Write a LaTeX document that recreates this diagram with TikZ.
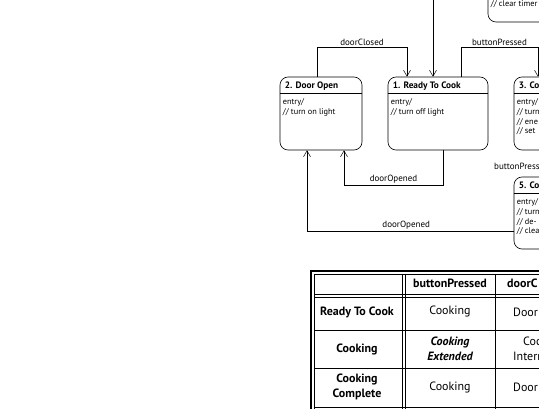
\documentclass[tikz,border=0pt]{standalone}
\usepackage{fontspec}
\setmainfont{PT Sans}
\usepackage{tikz}
\usetikzlibrary{arrows.meta, positioning}
\tikzset{
    state/.style={
        rectangle,
        draw=black,
        line width=0.6pt,
        rounded corners=8pt,
        inner sep=0pt,
        minimum width=100pt,
        minimum height=73pt
    },
    statetitle/.style={
        anchor=base west,
        inner sep=0pt,
        font=\fontsize{9.3}{11}\selectfont\bfseries
    },
    statebody/.style={
        anchor=north west,
        inner sep=0pt,
        align=left,
        font=\fontsize{8.3}{9.6}\selectfont
    },
    transition/.style={
        draw=black,
        line width=0.5pt,
        -{Straight Barb[length=6pt,width=7pt]}
    },
    tlabel/.style={
        font=\fontsize{9}{11}\selectfont,
        inner sep=1.5pt
    },
    cell/.style={
        align=center,
        inner sep=0pt,
        font=\fontsize{12}{15.5}\selectfont
    },
    headcell/.style={
        cell,
        font=\fontsize{12}{15.5}\selectfont\bfseries
    },
    gridline/.style={
        draw=black,
        line width=0.5pt
    }
}

\begin{document}
\begin{tikzpicture}[x=1pt, y=-1pt]
\useasboundingbox (0,0) rectangle (539,409);
\clip (0,0) rectangle (539,409);

% States
\node[state, minimum width=82pt] (door) at (321,113.5) {};
\node[state] (ready) at (438,113.5) {};
\node[state] (cook) at (564,113.5) {};
\node[state, minimum height=72pt] (done) at (564,213) {};
\node[state, minimum height=72pt] (timer) at (538,-14) {};

% Title bars
\draw[line width=0.4pt] ([yshift=-17pt]door.north west) -- ([yshift=-17pt]door.north east);
\draw[line width=0.4pt] ([yshift=-17pt]ready.north west) -- ([yshift=-17pt]ready.north east);
\draw[line width=0.4pt] ([yshift=-17pt]cook.north west) -- ([yshift=-17pt]cook.north east);
\draw[line width=0.4pt] ([yshift=-17pt]done.north west) -- ([yshift=-17pt]done.north east);

% State texts
\node[statetitle] (doortitle) at ([xshift=5pt,yshift=-12pt]door.north west) {2. Door Open};
\node[statebody] (doorbody) at ([xshift=3pt,yshift=-22pt]door.north west) {entry/\\// turn on light};
\node[statetitle] (readytitle) at ([xshift=5pt,yshift=-12pt]ready.north west) {1. Ready To Cook};
\node[statebody] (readybody) at ([xshift=3pt,yshift=-22pt]ready.north west) {entry/\\// turn off light};
\node[statetitle] (cooktitle) at ([xshift=5pt,yshift=-12pt]cook.north west) {3. Co};
\node[statebody] (cookbody) at ([xshift=3pt,yshift=-22pt]cook.north west) {entry/\\// turn\\// ene\\// set};
\node[statetitle] (donetitle) at ([xshift=5pt,yshift=-12pt]done.north west) {5. Co};
\node[statebody] (donebody) at ([xshift=3pt,yshift=-22pt]done.north west) {entry/\\// turn\\// de-\\// clea};
\node[statebody, anchor=base west] (timerbody) at ([xshift=3pt,yshift=16pt]timer.south west) {// clear timer};

% Transitions
\coordinate (fromabove) at (433,-10);
\draw[transition] ([xshift=-4pt]door.north) -- ++(0,-29) -| node[tlabel, pos=0.25, above] {doorClosed} ([xshift=-31pt]ready.north);
\draw[transition] (fromabove) -- ([xshift=-5pt]ready.north);
\draw[transition] ([xshift=23pt]ready.north) -- ++(0,-29) -| node[tlabel, pos=0.25, above] {buttonPressed} ([xshift=-26pt]cook.north);
\draw[transition] ([xshift=5pt]ready.south) -- ++(0,35) -| node[tlabel, pos=0.25, above] {doorOpened} ([xshift=23pt]door.south);
\draw[transition] ([yshift=-18pt]done.west) -| node[tlabel, pos=0.26, above] {doorOpened} ([xshift=-14pt]door.south);
\node[tlabel, anchor=base west, inner sep=0pt] (donein) at (494,170) {buttonPress};

% Transition table
\draw[line width=2pt] (311,420) -- (311,271) -- (545,271);
\draw[gridline] (314,420) -- (314,274) -- (545,274);
\draw[gridline] (314,294) -- (545,294);
\draw[gridline] (314,297) -- (545,297);
\draw[gridline] (402,274) -- (402,420);
\draw[gridline] (405,274) -- (405,420);
\draw[gridline] (495,274) -- (495,420);
\draw[gridline] (314,330) -- (545,330);
\draw[gridline] (314,368) -- (545,368);
\draw[gridline] (314,407) -- (545,407);

\node[headcell] (hbutton) at (450,283) {buttonPressed};
\node[headcell, anchor=west] (hdoor) at (507,283) {doorC};
\node[headcell] (rready) at (357,312) {Ready To Cook};
\node[headcell] (rcook) at (357,349) {Cooking};
\node[headcell] (rdone) at (357,387) {Cooking\\Complete};
\node[cell] (c11) at (450,312) {Cooking};
\node[cell, font=\fontsize{12}{15.5}\selectfont\bfseries\itshape] (c21) at (450,349) {Cooking\\Extended};
\node[cell] (c31) at (450,387) {Cooking};
\node[cell, anchor=west] (c12) at (513,312) {Door};
\node[cell, anchor=west] (c22) at (513,349) {\hspace*{10pt}Coc\\Interr};
\node[cell, anchor=west] (c32) at (513,387) {Door};

\end{tikzpicture}
\end{document}
